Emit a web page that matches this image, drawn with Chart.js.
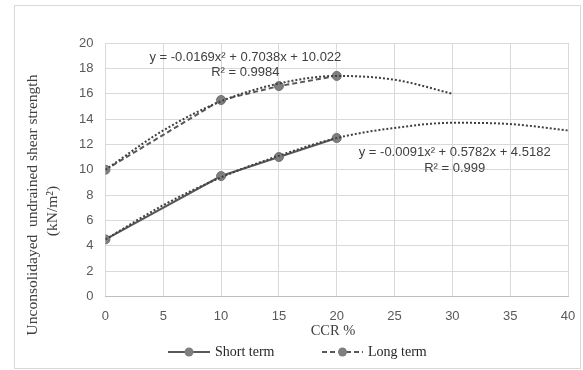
<!DOCTYPE html>
<html>
<head>
<meta charset="utf-8">
<script src="https://cdn.jsdelivr.net/npm/chart.js@4.4.1/dist/chart.umd.min.js"></script>
<style>
  body { margin: 0; background: #fff; }
  #frame { position: absolute; left: 14px; top: 5px; width: 567px; height: 364px; border: 1px solid #d9d9d9; box-sizing: border-box; }
  #wrap { position: absolute; left: 0; top: 0; width: 583px; height: 370px; }
</style>
</head>
<body>
<div id="frame"></div>
<div id="wrap"><canvas id="main-chart" width="583" height="370"></canvas></div>
<script>
// data
const ccr = [0, 10, 15, 20];
const shortTerm = [4.5, 9.5, 11.0, 12.5];
const longTerm = [10.0, 15.5, 16.6, 17.4];

// trendlines
const shortTrendX = [0, 5, 10, 15, 20, 25, 30, 35, 40];
const shortTrendY = [4.5, 7.2, 9.4, 11.1, 12.5, 13.3, 13.7, 13.6, 13.1];
const longTrendX = [0, 5, 10, 15, 20, 25, 30];
const longTrendY = [10.0, 13.1, 15.4, 16.8, 17.4, 17.1, 16.0];

const seriesNames = ['Short term', 'Long term'];
const shortEq = ['y = -0.0091x² + 0.5782x + 4.5182', 'R² = 0.999'];
const longEq = ['y = -0.0169x² + 0.7038x + 10.022', 'R² = 0.9984'];
const yTitle = ['Unconsolidayed  undrained shear strength', '(kN/m²)'];
const xTitle = 'CCR %';

const toPoints = (xs, ys) => xs.map((x, i) => ({ x: x, y: ys[i] }));

// 方程式、轴标题、图例 (自己画)
const extrasPlugin = {
    id: 'extras',
    afterDatasetsDraw(chart) {
        const { ctx, scales } = chart;
        ctx.save();
        // trendline equations
        ctx.font = '13px "Liberation Sans Narrow", "Liberation Sans", sans-serif';
        ctx.fillStyle = '#404040';
        ctx.textAlign = 'center';
        ctx.textBaseline = 'middle';
        const put = (lines, xv, yv1, yv2) => {
            ctx.fillText(lines[0], scales.x.getPixelForValue(xv), scales.y.getPixelForValue(yv1));
            ctx.fillText(lines[1], scales.x.getPixelForValue(xv), scales.y.getPixelForValue(yv2));
        };
        put(longEq, 12.1, 18.9, 17.65);
        put(shortEq, 30.2, 11.35, 10.1);

        // axis titles
        ctx.font = '15.5px "Liberation Serif", serif';
        ctx.fillStyle = '#404040';
        ctx.save();
        ctx.translate(33, 205);
        ctx.rotate(-Math.PI / 2);
        ctx.fillText(yTitle[0], 0, 0);
        ctx.fillText(yTitle[1], -6, 20);
        ctx.restore();
        ctx.font = '14.5px "Liberation Serif", serif';
        ctx.fillText(xTitle, 333, 331);

        // legend
        const legendY = 352;
        const drawKey = (x0, x1, dash, label) => {
            ctx.strokeStyle = '#595959';
            ctx.lineWidth = 2;
            ctx.setLineDash(dash);
            ctx.beginPath(); ctx.moveTo(x0, legendY); ctx.lineTo(x1, legendY); ctx.stroke();
            ctx.setLineDash([]);
            ctx.fillStyle = '#7f7f7f';
            ctx.beginPath(); ctx.arc((x0 + x1) / 2, legendY, 4.5, 0, Math.PI * 2); ctx.fill();
            ctx.fillStyle = '#262626';
            ctx.font = '14px "Liberation Serif", serif';
            ctx.textAlign = 'left';
            ctx.fillText(label, x1 + 5, legendY);
        };
        drawKey(168, 210, [], seriesNames[0]);
        drawKey(322, 363, [5, 3], seriesNames[1]);
        ctx.restore();
    }
};

const trendStyle = {
    borderColor: '#404040',
    borderWidth: 2,
    borderDash: [2, 2],
    pointRadius: 0,
    cubicInterpolationMode: 'monotone',
    order: 0
};
const markerStyle = {
    borderColor: '#595959',
    borderWidth: 2,
    pointRadius: 4.5,
    pointBackgroundColor: '#7f7f7f',
    pointBorderColor: '#6f6f6f',
    pointBorderWidth: 1,
    order: 1
};

const ctx = document.getElementById('main-chart').getContext('2d');
new Chart(ctx, {
    type: 'line',
    data: {
        datasets: [
            Object.assign({ label: 'short-trend', data: toPoints(shortTrendX, shortTrendY) }, trendStyle),
            Object.assign({ label: 'long-trend', data: toPoints(longTrendX, longTrendY) }, trendStyle),
            Object.assign({ label: seriesNames[0], data: toPoints(ccr, shortTerm) }, markerStyle),
            Object.assign({ label: seriesNames[1], data: toPoints(ccr, longTerm), borderDash: [5, 3] }, markerStyle)
        ]
    },
    options: {
        responsive: false,
        animation: false,
        layout: { padding: { left: 67, right: 15, top: 43, bottom: 34 } },
        scales: {
            x: {
                type: 'linear',
                min: 0,
                max: 40,
                ticks: { stepSize: 5, color: '#595959', font: { family: '"Liberation Sans", sans-serif', size: 13 }, padding: 12 },
                grid: { color: '#d9d9d9', drawTicks: false },
                border: { color: '#bfbfbf' },
                // tick padding 不要算进右边距
                afterFit: scale => { scale.paddingRight = 0; scale.paddingLeft = 0; }
            },
            y: {
                min: 0,
                max: 20,
                ticks: { stepSize: 2, color: '#595959', font: { family: '"Liberation Sans", sans-serif', size: 13 }, padding: 12 },
                grid: { color: '#d9d9d9', drawTicks: false },
                border: { display: false }
            }
        },
        plugins: {
            legend: { display: false },
            tooltip: { enabled: false }
        }
    },
    plugins: [extrasPlugin]
});
</script>
</body>
</html>
